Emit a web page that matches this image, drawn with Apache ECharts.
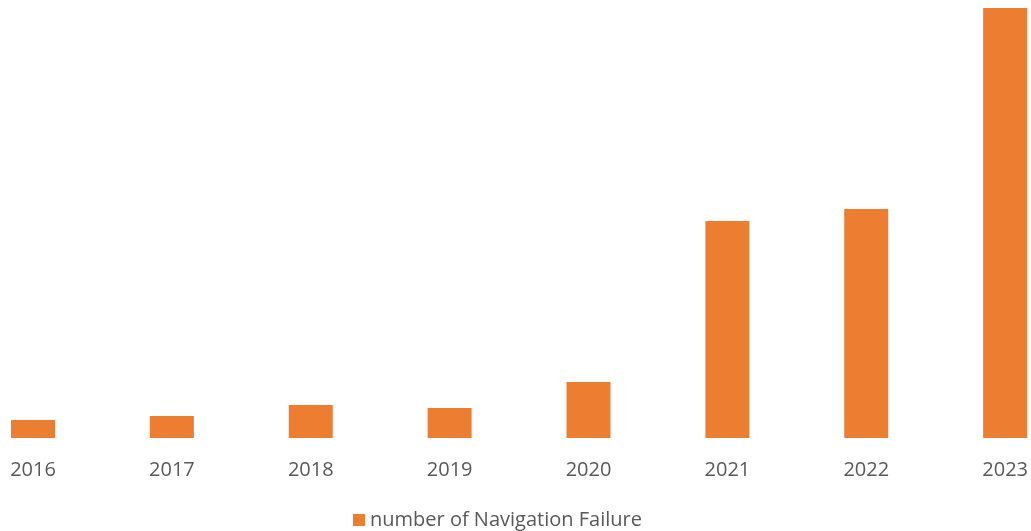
<!DOCTYPE html>
<html>
<head>
<meta charset="utf-8">
<script src="https://cdn.jsdelivr.net/npm/echarts@6/dist/echarts.min.js"></script>
<style>
html,body{margin:0;padding:0;background:#fff;}
#chart{width:1031px;height:531px;}
</style>
</head>
<body>
<div id="chart"></div>
<script>
const categories = ['2016','2017','2018','2019','2020','2021','2022','2023'];
const failures = [18, 22, 33, 30, 56, 217, 229, 430];
const seriesName = 'number of Navigation Failure';

const chart = echarts.init(document.getElementById('chart'), null, {renderer:'canvas'});
chart.setOption({
  backgroundColor: '#ffffff',
  animation: false,
  grid: {left: 33, right: 23, top: 8, bottom: 93, containLabel: false},
  legend: {
    show: true,
    left: 348,
    top: 505,
    itemWidth: 12,
    itemHeight: 12,
    itemGap: 8,
    icon: 'rect',
    textStyle: {color: '#595959', fontSize: 20, fontFamily: 'Open Sans'},
    data: [seriesName]
  },
  xAxis: {
    type: 'category',
    data: categories,
    boundaryGap: false,
    axisLine: {show: false},
    axisTick: {show: false},
    axisLabel: {color: '#595959', fontSize: 20, fontFamily: 'Open Sans', margin: 22}
  },
  yAxis: {
    type: 'value',
    min: 0,
    max: 430,
    show: false,
    splitLine: {show: false}
  },
  series: [{
    name: seriesName,
    type: 'bar',
    data: failures,
    barWidth: 44,
    itemStyle: {color: '#ED7D31'}
  }]
});
</script>
</body>
</html>
